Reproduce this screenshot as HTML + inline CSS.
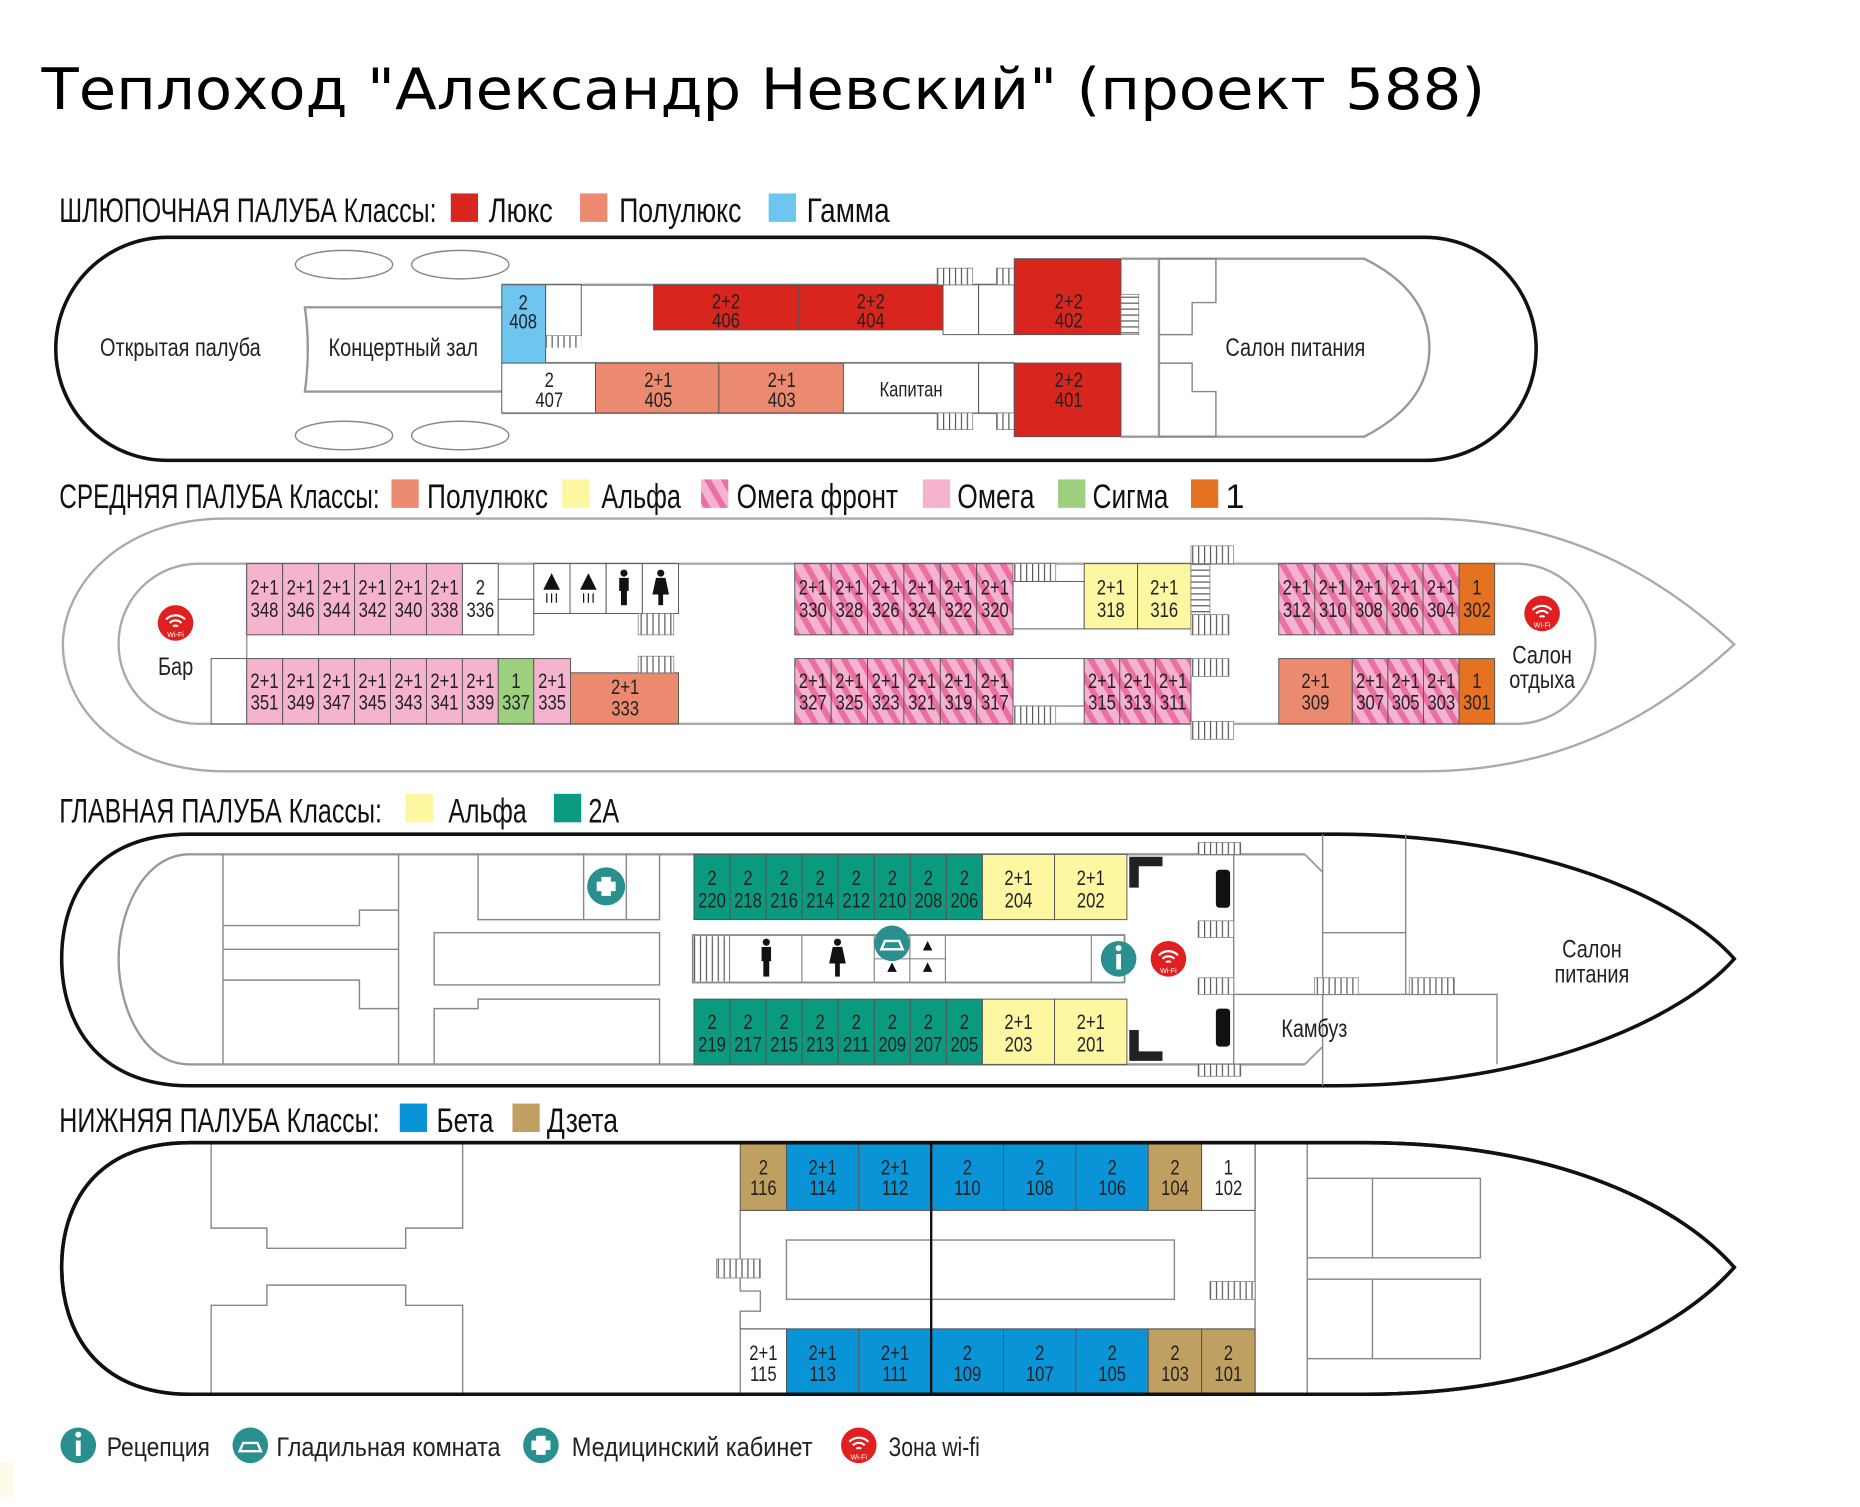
<!DOCTYPE html>
<html><head><meta charset="utf-8"><style>
html,body{margin:0;padding:0;background:#fff;}
svg{display:block;}
.n{font-family:"Liberation Sans",sans-serif;transform-box:fill-box;transform-origin:center;transform:scaleX(0.8);}
.lg{font-family:"Liberation Sans",sans-serif;}
.c{font-family:"Liberation Sans",sans-serif;font-size:18px;text-anchor:middle;fill:#222;transform-box:fill-box;transform-origin:center;transform:scaleX(0.78);}
.cell{stroke:#555;stroke-width:0.8;}
.w{fill:none;stroke:#999;stroke-width:2;}
.wt{fill:none;stroke:#888;stroke-width:1.2;}
.h{font-family:"Liberation Sans",sans-serif;font-size:29px;fill:#111;}
</style></head><body>
<svg width="1860" height="1507" viewBox="0 0 1568 1270" preserveAspectRatio="none" xmlns="http://www.w3.org/2000/svg">
<defs>
<pattern id="of" width="12" height="12" patternUnits="userSpaceOnUse" patternTransform="rotate(-30)"><rect width="12" height="12" fill="#f5b3cf"/><rect width="5" height="12" fill="#ea6fa4"/></pattern>
<pattern id="st" width="5" height="10" patternUnits="userSpaceOnUse"><rect width="5" height="10" fill="#fff"/><line x1="0.5" y1="0" x2="0.5" y2="10" stroke="#555" stroke-width="1"/></pattern>
<pattern id="sh" width="10" height="5" patternUnits="userSpaceOnUse"><rect width="10" height="5" fill="#fff"/><line x1="0" y1="0.5" x2="10" y2="0.5" stroke="#555" stroke-width="1"/></pattern>
</defs>
<rect width="1568" height="1270" fill="#fff"/>
<text x="35" y="92" font-family="DejaVu Sans, Liberation Sans, sans-serif" font-size="48" fill="#000" textLength="1217" lengthAdjust="spacingAndGlyphs">Теплоход "Александр Невский" (проект 588)</text>

<!-- ============ DECK 1 ============ -->
<text class="h" x="50" y="187" textLength="318" lengthAdjust="spacingAndGlyphs">ШЛЮПОЧНАЯ ПАЛУБА Классы:</text>
<rect x="380" y="163" width="23" height="24" fill="#d8261e"/><text class="h" x="412" y="187" textLength="54" lengthAdjust="spacingAndGlyphs">Люкс</text>
<rect x="489" y="163" width="23" height="24" fill="#ec8a70"/><text class="h" x="522" y="187" textLength="103" lengthAdjust="spacingAndGlyphs">Полулюкс</text>
<rect x="648" y="163" width="23" height="24" fill="#6ec6f0"/><text class="h" x="680" y="187" textLength="70" lengthAdjust="spacingAndGlyphs">Гамма</text>

<rect x="47" y="200" width="1248" height="188" rx="94" ry="94" fill="#fff" stroke="#111" stroke-width="3"/>
<ellipse cx="290" cy="223" rx="41" ry="12" class="wt"/><ellipse cx="388" cy="223" rx="41" ry="12" class="wt"/>
<ellipse cx="290" cy="367" rx="41" ry="12" class="wt"/><ellipse cx="388" cy="367" rx="41" ry="12" class="wt"/>
<path d="M423,259 H257 Q262,294 257,330 H423" class="w"/>
<text class="n" x="152" y="300" font-size="21" text-anchor="middle" fill="#222">Открытая палуба</text>
<text class="n" x="340" y="300" font-size="21" text-anchor="middle" fill="#222">Концертный зал</text>
<line x1="423" y1="240" x2="855" y2="240" stroke="#999" stroke-width="2"/>
<line x1="460" y1="306" x2="855" y2="306" stroke="#999" stroke-width="2"/>
<line x1="423" y1="348" x2="855" y2="348" stroke="#999" stroke-width="2"/>
<rect x="423" y="240" width="37" height="66" fill="#6ec6f0" class="cell"/>
<text class="c" x="441" y="261">2</text><text class="c" x="441" y="277">408</text>
<rect x="460" y="240" width="30" height="43" fill="#fff" class="cell"/>
<rect x="460" y="283" width="30" height="10" fill="url(#st)"/>
<rect x="551" y="240" width="122" height="38" fill="#d8261e" class="cell"/>
<text class="c" x="612" y="260">2+2</text><text class="c" x="612" y="276">406</text>
<rect x="673" y="240" width="122" height="38" fill="#d8261e" class="cell"/>
<text class="c" x="734" y="260">2+2</text><text class="c" x="734" y="276">404</text>
<rect x="795" y="240" width="30" height="42" fill="#fff" class="cell"/><rect x="825" y="240" width="30" height="42" fill="#fff" class="cell"/>
<rect x="790" y="226" width="30" height="14" fill="url(#st)" stroke="#777" stroke-width="0.6"/>
<rect x="840" y="226" width="30" height="14" fill="url(#st)" stroke="#777" stroke-width="0.6"/>
<rect x="855" y="218" width="90" height="64" fill="#d8261e" class="cell"/>
<text class="c" x="901" y="260">2+2</text><text class="c" x="901" y="276">402</text>
<rect x="945" y="248" width="15" height="34" fill="url(#sh)" stroke="#777" stroke-width="0.6"/>
<rect x="423" y="306" width="79" height="42" fill="#fff" class="cell"/>
<text class="c" x="463" y="326">2</text><text class="c" x="463" y="343">407</text>
<rect x="502" y="306" width="104" height="42" fill="#ec8a70" class="cell"/>
<text class="c" x="555" y="326">2+1</text><text class="c" x="555" y="343">405</text>
<rect x="606" y="306" width="105" height="42" fill="#ec8a70" class="cell"/>
<text class="c" x="659" y="326">2+1</text><text class="c" x="659" y="343">403</text>
<rect x="711" y="306" width="114" height="42" fill="#fff" class="cell"/>
<text class="c" x="768" y="334">Капитан</text>
<rect x="825" y="306" width="30" height="42" fill="#fff" class="cell"/>
<rect x="790" y="348" width="30" height="14" fill="url(#st)" stroke="#777" stroke-width="0.6"/>
<rect x="840" y="348" width="30" height="14" fill="url(#st)" stroke="#777" stroke-width="0.6"/>
<rect x="855" y="306" width="90" height="62" fill="#d8261e" class="cell"/>
<text class="c" x="901" y="326">2+2</text><text class="c" x="901" y="343">401</text>
<path d="M945,218 H1150 Q1205,245 1205,293 Q1205,340 1150,368 H945" class="w"/>
<line x1="977" y1="218" x2="977" y2="368" stroke="#999" stroke-width="2"/>
<path d="M977,218 H1025 V255 H1005 V282 H977" class="wt"/>
<path d="M977,368 H1025 V330 H1005 V306 H977" class="wt"/>
<text class="n" x="1092" y="300" font-size="21" text-anchor="middle" fill="#222">Салон питания</text>

<!-- ============ DECK 2 ============ -->
<text class="h" x="50" y="428" textLength="270" lengthAdjust="spacingAndGlyphs">СРЕДНЯЯ ПАЛУБА Классы:</text>
<rect x="330" y="404" width="23" height="24" fill="#ec8a70"/><text class="h" x="360" y="428" textLength="102" lengthAdjust="spacingAndGlyphs">Полулюкс</text>
<rect x="474" y="404" width="23" height="24" fill="#fcf7a0"/><text class="h" x="507" y="428" textLength="67" lengthAdjust="spacingAndGlyphs">Альфа</text>
<rect x="591" y="404" width="23" height="24" fill="url(#of)"/><text class="h" x="621" y="428" textLength="136" lengthAdjust="spacingAndGlyphs">Омега фронт</text>
<rect x="778" y="404" width="23" height="24" fill="#f5b3cf"/><text class="h" x="807" y="428" textLength="65" lengthAdjust="spacingAndGlyphs">Омега</text>
<rect x="892" y="404" width="23" height="24" fill="#9ccf7e"/><text class="h" x="921" y="428" textLength="64" lengthAdjust="spacingAndGlyphs">Сигма</text>
<rect x="1004" y="404" width="23" height="24" fill="#e57220"/><text class="h" x="1033" y="428">1</text>

<path d="M1200,437 H190 C100,437 53,495 53,543 C53,595 100,650 190,650 H1200 C1320,650 1400,600 1462,543 C1400,486 1320,437 1200,437 Z" fill="#fff" stroke="#aaa" stroke-width="2"/>
<rect x="100" y="475" width="1245" height="135" rx="67" ry="67" fill="#fff" stroke="#aaa" stroke-width="2"/>
<line x1="208" y1="475" x2="208" y2="555" stroke="#aaa" stroke-width="1.5"/>
<g>
<rect x="208" y="475" width="30.3" height="60" fill="#f5b3cf" class="cell"/><text class="c" x="223" y="501">2+1</text><text class="c" x="223" y="520">348</text>
<rect x="238.3" y="475" width="30.3" height="60" fill="#f5b3cf" class="cell"/><text class="c" x="253.5" y="501">2+1</text><text class="c" x="253.5" y="520">346</text>
<rect x="268.6" y="475" width="30.3" height="60" fill="#f5b3cf" class="cell"/><text class="c" x="283.8" y="501">2+1</text><text class="c" x="283.8" y="520">344</text>
<rect x="298.9" y="475" width="30.3" height="60" fill="#f5b3cf" class="cell"/><text class="c" x="314" y="501">2+1</text><text class="c" x="314" y="520">342</text>
<rect x="329.2" y="475" width="30.3" height="60" fill="#f5b3cf" class="cell"/><text class="c" x="344.4" y="501">2+1</text><text class="c" x="344.4" y="520">340</text>
<rect x="359.5" y="475" width="30.3" height="60" fill="#f5b3cf" class="cell"/><text class="c" x="374.7" y="501">2+1</text><text class="c" x="374.7" y="520">338</text>
<rect x="389.8" y="475" width="30.2" height="60" fill="#fff" class="cell"/><text class="c" x="405" y="501">2</text><text class="c" x="405" y="520">336</text>
<rect x="420" y="505" width="30" height="30" fill="#fff" class="cell"/>
<rect x="450" y="475" width="30.5" height="42" fill="#fff" class="cell"/><rect x="480.5" y="475" width="30.5" height="42" fill="#fff" class="cell"/>
<rect x="511" y="475" width="30.5" height="42" fill="#fff" class="cell"/><rect x="541.5" y="475" width="30.5" height="42" fill="#fff" class="cell"/>
<path d="M465,483 l-7,14 h14 z" fill="#111"/><path d="M496,483 l-7,14 h14 z" fill="#111"/>
<line x1="461" y1="500" x2="461" y2="508" stroke="#111"/><line x1="465" y1="500" x2="465" y2="508" stroke="#111"/><line x1="469" y1="500" x2="469" y2="508" stroke="#111"/>
<line x1="492" y1="500" x2="492" y2="508" stroke="#111"/><line x1="496" y1="500" x2="496" y2="508" stroke="#111"/><line x1="500" y1="500" x2="500" y2="508" stroke="#111"/>
<circle cx="526" cy="483" r="3" fill="#111"/><rect x="522" y="487" width="8" height="11" fill="#111"/><rect x="523.5" y="497" width="5" height="13" fill="#111"/>
<circle cx="557" cy="483" r="3" fill="#111"/><path d="M553,487 h8 l3,14 h-14 z" fill="#111"/><rect x="555" y="500" width="4" height="10" fill="#111"/>
<rect x="538" y="517" width="30" height="18" fill="url(#st)" stroke="#777" stroke-width="0.6"/>
</g>
<g>
<rect x="670" y="475" width="30.7" height="60" fill="url(#of)" class="cell"/><text class="c" x="685.3" y="501">2+1</text><text class="c" x="685.3" y="520">330</text>
<rect x="700.7" y="475" width="30.7" height="60" fill="url(#of)" class="cell"/><text class="c" x="716" y="501">2+1</text><text class="c" x="716" y="520">328</text>
<rect x="731.3" y="475" width="30.7" height="60" fill="url(#of)" class="cell"/><text class="c" x="746.7" y="501">2+1</text><text class="c" x="746.7" y="520">326</text>
<rect x="762" y="475" width="30.7" height="60" fill="url(#of)" class="cell"/><text class="c" x="777.3" y="501">2+1</text><text class="c" x="777.3" y="520">324</text>
<rect x="792.7" y="475" width="30.7" height="60" fill="url(#of)" class="cell"/><text class="c" x="808" y="501">2+1</text><text class="c" x="808" y="520">322</text>
<rect x="823.3" y="475" width="30.7" height="60" fill="url(#of)" class="cell"/><text class="c" x="838.7" y="501">2+1</text><text class="c" x="838.7" y="520">320</text>
<rect x="854" y="475" width="36" height="15" fill="url(#st)" stroke="#777" stroke-width="0.6"/>
<rect x="854" y="490" width="60" height="40" fill="#fff" class="cell"/>
<rect x="914" y="475" width="45" height="55" fill="#fcf7a0" class="cell"/><text class="c" x="936.5" y="501">2+1</text><text class="c" x="936.5" y="520">318</text>
<rect x="959" y="475" width="45" height="55" fill="#fcf7a0" class="cell"/><text class="c" x="981.5" y="501">2+1</text><text class="c" x="981.5" y="520">316</text>
<rect x="1004" y="460" width="36" height="15" fill="url(#st)" stroke="#777" stroke-width="0.6"/>
<rect x="1004" y="475" width="16" height="43" fill="url(#sh)" stroke="#777" stroke-width="0.6"/>
<rect x="1004" y="518" width="32" height="17" fill="url(#st)" stroke="#777" stroke-width="0.6"/>
</g>
<g>
<rect x="1078" y="475" width="30.4" height="60" fill="url(#of)" class="cell"/><text class="c" x="1093.2" y="501">2+1</text><text class="c" x="1093.2" y="520">312</text>
<rect x="1108.4" y="475" width="30.4" height="60" fill="url(#of)" class="cell"/><text class="c" x="1123.6" y="501">2+1</text><text class="c" x="1123.6" y="520">310</text>
<rect x="1138.8" y="475" width="30.4" height="60" fill="url(#of)" class="cell"/><text class="c" x="1154" y="501">2+1</text><text class="c" x="1154" y="520">308</text>
<rect x="1169.2" y="475" width="30.4" height="60" fill="url(#of)" class="cell"/><text class="c" x="1184.4" y="501">2+1</text><text class="c" x="1184.4" y="520">306</text>
<rect x="1199.6" y="475" width="30.4" height="60" fill="url(#of)" class="cell"/><text class="c" x="1214.8" y="501">2+1</text><text class="c" x="1214.8" y="520">304</text>
<rect x="1230" y="475" width="30" height="60" fill="#e57220" class="cell"/><text class="c" x="1245" y="501">1</text><text class="c" x="1245" y="520">302</text>
</g>
<g>
<rect x="178" y="555" width="30" height="55" fill="#fff" class="cell"/>
<rect x="208" y="555" width="30.3" height="55" fill="#f5b3cf" class="cell"/><text class="c" x="223" y="580">2+1</text><text class="c" x="223" y="598">351</text>
<rect x="238.3" y="555" width="30.3" height="55" fill="#f5b3cf" class="cell"/><text class="c" x="253.5" y="580">2+1</text><text class="c" x="253.5" y="598">349</text>
<rect x="268.6" y="555" width="30.3" height="55" fill="#f5b3cf" class="cell"/><text class="c" x="283.8" y="580">2+1</text><text class="c" x="283.8" y="598">347</text>
<rect x="298.9" y="555" width="30.3" height="55" fill="#f5b3cf" class="cell"/><text class="c" x="314" y="580">2+1</text><text class="c" x="314" y="598">345</text>
<rect x="329.2" y="555" width="30.3" height="55" fill="#f5b3cf" class="cell"/><text class="c" x="344.4" y="580">2+1</text><text class="c" x="344.4" y="598">343</text>
<rect x="359.5" y="555" width="30.3" height="55" fill="#f5b3cf" class="cell"/><text class="c" x="374.7" y="580">2+1</text><text class="c" x="374.7" y="598">341</text>
<rect x="389.8" y="555" width="30.3" height="55" fill="#f5b3cf" class="cell"/><text class="c" x="405" y="580">2+1</text><text class="c" x="405" y="598">339</text>
<rect x="420" y="555" width="30" height="55" fill="#9ccf7e" class="cell"/><text class="c" x="435" y="580">1</text><text class="c" x="435" y="598">337</text>
<rect x="450" y="555" width="31" height="55" fill="#f5b3cf" class="cell"/><text class="c" x="465.5" y="580">2+1</text><text class="c" x="465.5" y="598">335</text>
<rect x="481" y="567" width="91" height="43" fill="#ec8a70" class="cell"/><text class="c" x="527" y="585">2+1</text><text class="c" x="527" y="603">333</text>
<rect x="538" y="553" width="30" height="14" fill="url(#st)" stroke="#777" stroke-width="0.6"/>
</g>
<g>
<rect x="670" y="555" width="30.7" height="55" fill="url(#of)" class="cell"/><text class="c" x="685.3" y="580">2+1</text><text class="c" x="685.3" y="598">327</text>
<rect x="700.7" y="555" width="30.7" height="55" fill="url(#of)" class="cell"/><text class="c" x="716" y="580">2+1</text><text class="c" x="716" y="598">325</text>
<rect x="731.3" y="555" width="30.7" height="55" fill="url(#of)" class="cell"/><text class="c" x="746.7" y="580">2+1</text><text class="c" x="746.7" y="598">323</text>
<rect x="762" y="555" width="30.7" height="55" fill="url(#of)" class="cell"/><text class="c" x="777.3" y="580">2+1</text><text class="c" x="777.3" y="598">321</text>
<rect x="792.7" y="555" width="30.7" height="55" fill="url(#of)" class="cell"/><text class="c" x="808" y="580">2+1</text><text class="c" x="808" y="598">319</text>
<rect x="823.3" y="555" width="30.7" height="55" fill="url(#of)" class="cell"/><text class="c" x="838.7" y="580">2+1</text><text class="c" x="838.7" y="598">317</text>
<rect x="854" y="555" width="60" height="40" fill="#fff" class="cell"/>
<rect x="854" y="595" width="36" height="15" fill="url(#st)" stroke="#777" stroke-width="0.6"/>
<rect x="914" y="555" width="30" height="55" fill="url(#of)" class="cell"/><text class="c" x="929" y="580">2+1</text><text class="c" x="929" y="598">315</text>
<rect x="944" y="555" width="30" height="55" fill="url(#of)" class="cell"/><text class="c" x="959" y="580">2+1</text><text class="c" x="959" y="598">313</text>
<rect x="974" y="555" width="30" height="55" fill="url(#of)" class="cell"/><text class="c" x="989" y="580">2+1</text><text class="c" x="989" y="598">311</text>
<rect x="1004" y="555" width="32" height="15" fill="url(#st)" stroke="#777" stroke-width="0.6"/>
<rect x="1004" y="608" width="36" height="15" fill="url(#st)" stroke="#777" stroke-width="0.6"/>
</g>
<g>
<rect x="1078" y="555" width="62" height="55" fill="#ec8a70" class="cell"/><text class="c" x="1109" y="580">2+1</text><text class="c" x="1109" y="598">309</text>
<rect x="1140" y="555" width="30" height="55" fill="url(#of)" class="cell"/><text class="c" x="1155" y="580">2+1</text><text class="c" x="1155" y="598">307</text>
<rect x="1170" y="555" width="30" height="55" fill="url(#of)" class="cell"/><text class="c" x="1185" y="580">2+1</text><text class="c" x="1185" y="598">305</text>
<rect x="1200" y="555" width="30" height="55" fill="url(#of)" class="cell"/><text class="c" x="1215" y="580">2+1</text><text class="c" x="1215" y="598">303</text>
<rect x="1230" y="555" width="30" height="55" fill="#e57220" class="cell"/><text class="c" x="1245" y="580">1</text><text class="c" x="1245" y="598">301</text>
</g>
<g><circle cx="148" cy="525" r="15" fill="#e02020"/><path d="M140,522 a11,11 0 0 1 16,0 M143,525 a7,7 0 0 1 10,0 M146,528 a3,3 0 0 1 4,0" stroke="#fff" stroke-width="1.8" fill="none"/><text x="148" y="537" font-size="6" text-anchor="middle" fill="#fff" font-family="Liberation Sans,sans-serif">Wi-Fi</text></g>
<g><circle cx="1300" cy="517" r="15" fill="#e02020"/><path d="M1292,514 a11,11 0 0 1 16,0 M1295,517 a7,7 0 0 1 10,0 M1298,520 a3,3 0 0 1 4,0" stroke="#fff" stroke-width="1.8" fill="none"/><text x="1300" y="529" font-size="6" text-anchor="middle" fill="#fff" font-family="Liberation Sans,sans-serif">Wi-Fi</text></g>
<text class="n" x="148" y="569" font-size="21" text-anchor="middle" fill="#222">Бар</text>
<text class="n" x="1300" y="559" font-size="21" text-anchor="middle" fill="#222">Салон</text>
<text class="n" x="1300" y="580" font-size="21" text-anchor="middle" fill="#222">отдыха</text>

<!-- ============ DECK 3 ============ -->
<text class="h" x="50" y="693" textLength="272" lengthAdjust="spacingAndGlyphs">ГЛАВНАЯ ПАЛУБА Классы:</text>
<rect x="342" y="669" width="23" height="24" fill="#fcf7a0"/><text class="h" x="378" y="693" textLength="66" lengthAdjust="spacingAndGlyphs">Альфа</text>
<rect x="467" y="669" width="23" height="24" fill="#0a9a80"/><text class="h" x="496" y="693" textLength="26" lengthAdjust="spacingAndGlyphs">2А</text>
<path d="M160,703 H1125 C1300,703 1420,760 1462,808 C1420,856 1300,915 1125,915 H160 C80,915 52,860 52,808 C52,755 80,703 160,703 Z" fill="#fff" stroke="#111" stroke-width="3"/>
<path d="M1100,720 H160 C120,720 100,770 100,808 C100,848 120,897 160,897 H1100" class="w"/>
<line x1="1100" y1="720" x2="1115" y2="735" stroke="#999" stroke-width="1.5"/><line x1="1100" y1="897" x2="1115" y2="882" stroke="#999" stroke-width="1.5"/>
<g class="wt">
<line x1="188" y1="720" x2="188" y2="897"/><line x1="336" y1="720" x2="336" y2="897"/>
<path d="M188,780 H303 V767 H336"/><path d="M188,800 H336"/><path d="M188,826 H303 V850 H336"/>
<path d="M403,720 V775 H556 V720"/><line x1="492" y1="720" x2="492" y2="775"/><line x1="528" y1="720" x2="528" y2="775"/>
<rect x="366" y="786" width="190" height="44"/>
<path d="M366,897 V850 H403 V842 H556 V897"/>
<line x1="1040" y1="720" x2="1040" y2="897"/>
<line x1="1115" y1="703" x2="1115" y2="915"/><line x1="1185" y1="703" x2="1185" y2="838"/>
<path d="M1040,838 H1262 V897"/><path d="M1115,786 H1185"/>
</g>
<g>
<rect x="585" y="720" width="30.4" height="55" fill="#0a9a80" class="cell"/><text class="c" x="600.2" y="746">2</text><text class="c" x="600.2" y="765">220</text>
<rect x="615.4" y="720" width="30.4" height="55" fill="#0a9a80" class="cell"/><text class="c" x="630.6" y="746">2</text><text class="c" x="630.6" y="765">218</text>
<rect x="645.8" y="720" width="30.4" height="55" fill="#0a9a80" class="cell"/><text class="c" x="661" y="746">2</text><text class="c" x="661" y="765">216</text>
<rect x="676.2" y="720" width="30.4" height="55" fill="#0a9a80" class="cell"/><text class="c" x="691.4" y="746">2</text><text class="c" x="691.4" y="765">214</text>
<rect x="706.6" y="720" width="30.4" height="55" fill="#0a9a80" class="cell"/><text class="c" x="721.8" y="746">2</text><text class="c" x="721.8" y="765">212</text>
<rect x="737" y="720" width="30.4" height="55" fill="#0a9a80" class="cell"/><text class="c" x="752.2" y="746">2</text><text class="c" x="752.2" y="765">210</text>
<rect x="767.4" y="720" width="30.4" height="55" fill="#0a9a80" class="cell"/><text class="c" x="782.6" y="746">2</text><text class="c" x="782.6" y="765">208</text>
<rect x="797.8" y="720" width="30.4" height="55" fill="#0a9a80" class="cell"/><text class="c" x="813" y="746">2</text><text class="c" x="813" y="765">206</text>
<rect x="828.2" y="720" width="60.8" height="55" fill="#fcf7a0" class="cell"/><text class="c" x="858.6" y="746">2+1</text><text class="c" x="858.6" y="765">204</text>
<rect x="889" y="720" width="61" height="55" fill="#fcf7a0" class="cell"/><text class="c" x="919.5" y="746">2+1</text><text class="c" x="919.5" y="765">202</text>

<rect x="585" y="842" width="30.4" height="55" fill="#0a9a80" class="cell"/><text class="c" x="600.2" y="867">2</text><text class="c" x="600.2" y="886">219</text>
<rect x="615.4" y="842" width="30.4" height="55" fill="#0a9a80" class="cell"/><text class="c" x="630.6" y="867">2</text><text class="c" x="630.6" y="886">217</text>
<rect x="645.8" y="842" width="30.4" height="55" fill="#0a9a80" class="cell"/><text class="c" x="661" y="867">2</text><text class="c" x="661" y="886">215</text>
<rect x="676.2" y="842" width="30.4" height="55" fill="#0a9a80" class="cell"/><text class="c" x="691.4" y="867">2</text><text class="c" x="691.4" y="886">213</text>
<rect x="706.6" y="842" width="30.4" height="55" fill="#0a9a80" class="cell"/><text class="c" x="721.8" y="867">2</text><text class="c" x="721.8" y="886">211</text>
<rect x="737" y="842" width="30.4" height="55" fill="#0a9a80" class="cell"/><text class="c" x="752.2" y="867">2</text><text class="c" x="752.2" y="886">209</text>
<rect x="767.4" y="842" width="30.4" height="55" fill="#0a9a80" class="cell"/><text class="c" x="782.6" y="867">2</text><text class="c" x="782.6" y="886">207</text>
<rect x="797.8" y="842" width="30.4" height="55" fill="#0a9a80" class="cell"/><text class="c" x="813" y="867">2</text><text class="c" x="813" y="886">205</text>
<rect x="828.2" y="842" width="60.8" height="55" fill="#fcf7a0" class="cell"/><text class="c" x="858.6" y="867">2+1</text><text class="c" x="858.6" y="886">203</text>
<rect x="889" y="842" width="61" height="55" fill="#fcf7a0" class="cell"/><text class="c" x="919.5" y="867">2+1</text><text class="c" x="919.5" y="886">201</text>
</g>
<rect x="584" y="788" width="364" height="40" fill="#fff" stroke="#888" stroke-width="1.5"/>
<rect x="585" y="789" width="30" height="38" fill="url(#st)"/>
<line x1="615" y1="788" x2="615" y2="828" stroke="#888"/><line x1="676" y1="788" x2="676" y2="828" stroke="#888"/>
<line x1="737" y1="788" x2="737" y2="828" stroke="#888"/><line x1="767" y1="788" x2="767" y2="828" stroke="#888"/><line x1="797" y1="788" x2="797" y2="828" stroke="#888"/>
<line x1="737" y1="808" x2="797" y2="808" stroke="#888"/><line x1="920" y1="788" x2="920" y2="828" stroke="#888"/>
<circle cx="646" cy="794" r="3" fill="#111"/><rect x="642" y="798" width="8" height="12" fill="#111"/><rect x="643.5" y="809" width="5" height="14" fill="#111"/>
<circle cx="706" cy="794" r="3" fill="#111"/><path d="M702,798 h8 l3,14 h-14 z" fill="#111"/><rect x="704" y="811" width="4" height="12" fill="#111"/>
<path d="M782,793 l-4,8 h8 z M752,811 l-4,8 h8 z M782,811 l-4,8 h8 z" fill="#111"/>
<g><circle cx="752" cy="795" r="15" fill="#2a8f8f"/><path d="M743,800 h18 l-3,-7 h-12 z" fill="none" stroke="#fff" stroke-width="2"/></g>
<g><circle cx="943" cy="808" r="15" fill="#2a8f8f"/><circle cx="943" cy="799" r="2.5" fill="#fff"/><rect x="941" y="804" width="4" height="13" fill="#fff"/></g>
<g><circle cx="985" cy="808" r="15" fill="#e02020"/><path d="M977,805 a11,11 0 0 1 16,0 M980,808 a7,7 0 0 1 10,0 M983,811 a3,3 0 0 1 4,0" stroke="#fff" stroke-width="1.8" fill="none"/><text x="985" y="820" font-size="6" text-anchor="middle" fill="#fff" font-family="Liberation Sans,sans-serif">Wi-Fi</text></g>
<g><circle cx="511" cy="747" r="16" fill="#2a8f8f"/><rect x="503" y="743" width="16" height="8" fill="#fff"/><rect x="507" y="739" width="8" height="16" fill="#fff"/></g>
<rect x="1010" y="710" width="36" height="10" fill="url(#st)" stroke="#777" stroke-width="0.6"/>
<rect x="1010" y="776" width="30" height="14" fill="url(#st)" stroke="#777" stroke-width="0.6"/>
<rect x="1010" y="824" width="30" height="14" fill="url(#st)" stroke="#777" stroke-width="0.6"/>
<rect x="1010" y="897" width="36" height="10" fill="url(#st)" stroke="#777" stroke-width="0.6"/>
<rect x="1108" y="824" width="37" height="14" fill="url(#st)" stroke="#777" stroke-width="0.6"/>
<rect x="1188" y="824" width="38" height="14" fill="url(#st)" stroke="#777" stroke-width="0.6"/>
<rect x="1025" y="733" width="12" height="32" rx="3" fill="#111"/><rect x="1025" y="850" width="12" height="32" rx="3" fill="#111"/>
<path d="M952,722 h28 v8 h-20 v18 h-8 z" fill="#222"/><path d="M952,894 h28 v-8 h-20 v-18 h-8 z" fill="#222"/>
<text class="n" x="1342" y="807" font-size="21" text-anchor="middle" fill="#222">Салон</text>
<text class="n" x="1342" y="828" font-size="21" text-anchor="middle" fill="#222">питания</text>
<text class="n" x="1108" y="874" font-size="21" text-anchor="middle" fill="#222">Камбуз</text>

<!-- ============ DECK 4 ============ -->
<text class="h" x="50" y="954" textLength="270" lengthAdjust="spacingAndGlyphs">НИЖНЯЯ ПАЛУБА Классы:</text>
<rect x="337" y="930" width="23" height="24" fill="#0a94d8"/><text class="h" x="368" y="954" textLength="48" lengthAdjust="spacingAndGlyphs">Бета</text>
<rect x="432" y="930" width="23" height="24" fill="#c0a060"/><text class="h" x="461" y="954" textLength="60" lengthAdjust="spacingAndGlyphs">Дзета</text>
<path d="M160,963 H1150 C1320,963 1420,1020 1462,1068 C1420,1116 1320,1175 1150,1175 H160 C80,1175 52,1120 52,1068 C52,1015 80,963 160,963 Z" fill="#fff" stroke="#111" stroke-width="3"/>
<g class="wt">
<path d="M178,963 V1035 H225 V1052 H342 V1035 H390 V963"/>
<path d="M178,1175 V1100 H225 V1083 H342 V1100 H390 V1175"/>
<path d="M624,1020 V1088 H641 V1105 H624 V1120"/>
<rect x="663" y="1045" width="327" height="50"/>
<path d="M624,1120 H1058 M624,1020 H1058"/>
<line x1="1058" y1="963" x2="1058" y2="1175"/><line x1="1102" y1="963" x2="1102" y2="1175"/>
<rect x="1102" y="993" width="146" height="67"/><rect x="1102" y="1078" width="146" height="67"/>
<line x1="1157" y1="993" x2="1157" y2="1060"/><line x1="1157" y1="1078" x2="1157" y2="1145"/>
</g>
<rect x="604" y="1061" width="37" height="16" fill="url(#st)" stroke="#777" stroke-width="0.6"/>
<rect x="1020" y="1080" width="38" height="15" fill="url(#st)" stroke="#777" stroke-width="0.6"/>
<g>
<rect x="624" y="963" width="39" height="57" fill="#c0a060" class="cell"/><text class="c" x="643.5" y="990">2</text><text class="c" x="643.5" y="1007">116</text>
<rect x="663" y="963" width="61" height="57" fill="#0a94d8" class="cell"/><text class="c" x="693.5" y="990">2+1</text><text class="c" x="693.5" y="1007">114</text>
<rect x="724" y="963" width="61" height="57" fill="#0a94d8" class="cell"/><text class="c" x="754.5" y="990">2+1</text><text class="c" x="754.5" y="1007">112</text>
<rect x="785" y="963" width="61" height="57" fill="#0a94d8" class="cell"/><text class="c" x="815.5" y="990">2</text><text class="c" x="815.5" y="1007">110</text>
<rect x="846" y="963" width="61" height="57" fill="#0a94d8" class="cell"/><text class="c" x="876.5" y="990">2</text><text class="c" x="876.5" y="1007">108</text>
<rect x="907" y="963" width="61" height="57" fill="#0a94d8" class="cell"/><text class="c" x="937.5" y="990">2</text><text class="c" x="937.5" y="1007">106</text>
<rect x="968" y="963" width="45" height="57" fill="#c0a060" class="cell"/><text class="c" x="990.5" y="990">2</text><text class="c" x="990.5" y="1007">104</text>
<rect x="1013" y="963" width="45" height="57" fill="#fff" class="cell"/><text class="c" x="1035.5" y="990">1</text><text class="c" x="1035.5" y="1007">102</text>

<rect x="624" y="1120" width="39" height="55" fill="#fff" class="cell"/><text class="c" x="643.5" y="1146">2+1</text><text class="c" x="643.5" y="1164">115</text>
<rect x="663" y="1120" width="61" height="55" fill="#0a94d8" class="cell"/><text class="c" x="693.5" y="1146">2+1</text><text class="c" x="693.5" y="1164">113</text>
<rect x="724" y="1120" width="61" height="55" fill="#0a94d8" class="cell"/><text class="c" x="754.5" y="1146">2+1</text><text class="c" x="754.5" y="1164">111</text>
<rect x="785" y="1120" width="61" height="55" fill="#0a94d8" class="cell"/><text class="c" x="815.5" y="1146">2</text><text class="c" x="815.5" y="1164">109</text>
<rect x="846" y="1120" width="61" height="55" fill="#0a94d8" class="cell"/><text class="c" x="876.5" y="1146">2</text><text class="c" x="876.5" y="1164">107</text>
<rect x="907" y="1120" width="61" height="55" fill="#0a94d8" class="cell"/><text class="c" x="937.5" y="1146">2</text><text class="c" x="937.5" y="1164">105</text>
<rect x="968" y="1120" width="45" height="55" fill="#c0a060" class="cell"/><text class="c" x="990.5" y="1146">2</text><text class="c" x="990.5" y="1164">103</text>
<rect x="1013" y="1120" width="45" height="55" fill="#c0a060" class="cell"/><text class="c" x="1035.5" y="1146">2</text><text class="c" x="1035.5" y="1164">101</text>
</g>
<line x1="785" y1="963" x2="785" y2="1175" stroke="#111" stroke-width="2"/>
<path d="M160,963 H1150 C1320,963 1420,1020 1462,1068 C1420,1116 1320,1175 1150,1175 H160 C80,1175 52,1120 52,1068 C52,1015 80,963 160,963 Z" fill="none" stroke="#111" stroke-width="3"/>

<!-- ============ LEGEND ============ -->
<g><circle cx="66" cy="1218" r="15" fill="#2a8f8f"/><circle cx="66" cy="1209" r="2.5" fill="#fff"/><rect x="64" y="1214" width="4" height="13" fill="#fff"/></g>
<text class="lg" x="90" y="1227" font-size="23" fill="#222" textLength="87" lengthAdjust="spacingAndGlyphs">Рецепция</text>
<g><circle cx="211" cy="1218" r="15" fill="#2a8f8f"/><path d="M202,1223 h18 l-3,-7 h-12 z" fill="none" stroke="#fff" stroke-width="2"/></g>
<text class="lg" x="233" y="1227" font-size="23" fill="#222" textLength="189" lengthAdjust="spacingAndGlyphs">Гладильная комната</text>
<g><circle cx="456" cy="1218" r="15" fill="#2a8f8f"/><rect x="448" y="1214" width="16" height="8" fill="#fff"/><rect x="452" y="1210" width="8" height="16" fill="#fff"/></g>
<text class="lg" x="482" y="1227" font-size="23" fill="#222" textLength="203" lengthAdjust="spacingAndGlyphs">Медицинский кабинет</text>
<g><circle cx="724" cy="1218" r="15" fill="#e02020"/><path d="M716,1215 a11,11 0 0 1 16,0 M719,1218 a7,7 0 0 1 10,0 M722,1221 a3,3 0 0 1 4,0" stroke="#fff" stroke-width="1.8" fill="none"/><text x="724" y="1230" font-size="6" text-anchor="middle" fill="#fff" font-family="Liberation Sans,sans-serif">Wi-Fi</text></g>
<text class="lg" x="749" y="1227" font-size="23" fill="#222" textLength="77" lengthAdjust="spacingAndGlyphs">Зона wi-fi</text>
<rect x="0" y="1232" width="12" height="30" fill="#fffbea"/>
</svg>
</body></html>
